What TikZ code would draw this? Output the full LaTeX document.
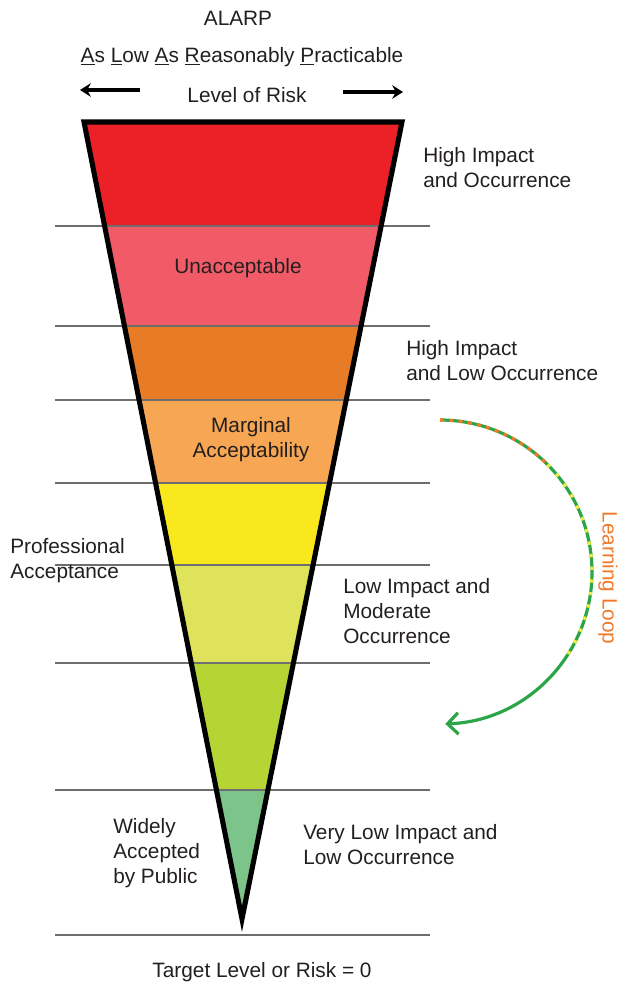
\documentclass[tikz,border=0pt]{standalone}
\usepackage{fontspec}
\setmainfont{Liberation Sans}
\usepackage{xcolor}
\usepackage{tikz}
\usetikzlibrary{arrows.meta,positioning}

\definecolor{bandRed}{HTML}{EC2027}
\definecolor{bandPink}{HTML}{F15B67}
\definecolor{bandOrange}{HTML}{E87B25}
\definecolor{bandApricot}{HTML}{F7A654}
\definecolor{bandYellow}{HTML}{F9E81E}
\definecolor{bandLime}{HTML}{DFE35B}
\definecolor{bandGreen}{HTML}{B6D433}
\definecolor{bandTeal}{HTML}{7DC48A}
\definecolor{inkGray}{HTML}{231F20}
\definecolor{ruleGray}{HTML}{6E6E6E}
\definecolor{loopGreen}{HTML}{2BA548}
\definecolor{loopOrange}{HTML}{F07A2A}
\definecolor{loopYellow}{HTML}{F2EA3A}

\tikzset{
  txt/.style={inner sep=0pt,text=inkGray,font=\fontsize{15.6}{18.8}\selectfont,align=left},
  ctxt/.style={txt,align=center},
  rule/.style={ruleGray,line width=1.3pt},
}

\begin{document}
\begin{tikzpicture}[x=0.75pt,y=0.75pt,>={Stealth[length=8pt,width=10pt,inset=2.5pt]}]
  \useasboundingbox (0,0) rectangle (620,-985);

  % coloured bands of the funnel
  \begin{scope}
    \clip (84,-122)--(402,-122)--(242,-919)--cycle;
    \foreach \ya/\yb/\col in {122/226/bandRed,226/326/bandPink,326/400/bandOrange,
        400/483/bandApricot,483/565/bandYellow,565/663/bandLime,663/790/bandGreen,790/930/bandTeal}
      \fill[\col] (60,-\ya) rectangle (430,-\yb);
  \end{scope}

  % level lines
  \foreach \y in {226,326,400,483,565,663,790,935}
    \draw[rule] (55,-\y)--(430,-\y);

  \draw[line width=3.8pt,line join=miter] (84,-122)--(402,-122)--(242,-919)--cycle;

  % heading
  \node[ctxt] (alarp) at (238,-18) {ALARP};
  \node[ctxt] (fullname) at (242,-57) {\underline{A}s \underline{L}ow \underline{A}s \underline{R}easonably \underline{P}racticable};
  \node[ctxt] (level) at (247,-95) {Level of Risk};
  \coordinate (lvlLeftS) at (140,-90);
  \coordinate (lvlLeftE) at (80,-90);
  \coordinate (lvlRightS) at (343,-92);
  \coordinate (lvlRightE) at (403,-92);
  \draw[->,line width=2.4pt] (lvlLeftS)--(lvlLeftE);
  \draw[->,line width=2.4pt] (lvlRightS)--(lvlRightE);

  % labels inside the funnel
  \node[ctxt] (unacc) at (238,-268) {Unacceptable};
  \node[ctxt] (marginal) at (251,-440) {Marginal\\Acceptability};

  % labels beside the funnel
  \node[txt,anchor=west] (highOcc) at (423,-168) {High Impact\\and Occurrence};
  \node[txt,anchor=west] (highLow) at (406,-361) {High Impact\\and Low Occurrence};
  \node[txt,anchor=west] (prof) at (10,-561) {Professional\\Acceptance};
  \node[txt,anchor=west] (lowMod) at (343,-611) {Low Impact and\\Moderate\\Occurrence};
  \node[txt,anchor=west] (widely) at (113,-853) {Widely\\Accepted\\by Public};
  \node[txt,anchor=west] (veryLow) at (303,-845) {Very Low Impact and\\Low Occurrence};
  \node[ctxt] (target) at (262,-972) {Target Level or Risk = 0};

  % learning loop
  \draw[loopGreen,line width=2.4pt,-{Straight Barb[length=8pt,width=16pt]}]
    (440,-420) arc[start angle=90,end angle=-88,radius=152];
  \draw[loopOrange,line width=2.4pt,dash pattern=on 3pt off 4pt]
    (440,-420) arc[start angle=90,end angle=45,radius=152];
  \draw[loopYellow,line width=2.4pt,dash pattern=on 2.5pt off 7pt]
    (440,-572) ++(45:152) arc[start angle=45,end angle=-35,radius=152];
  \node[txt,text=loopOrange,rotate=-90] (loop) at (608,-578) {Learning Loop};
\end{tikzpicture}
\end{document}
